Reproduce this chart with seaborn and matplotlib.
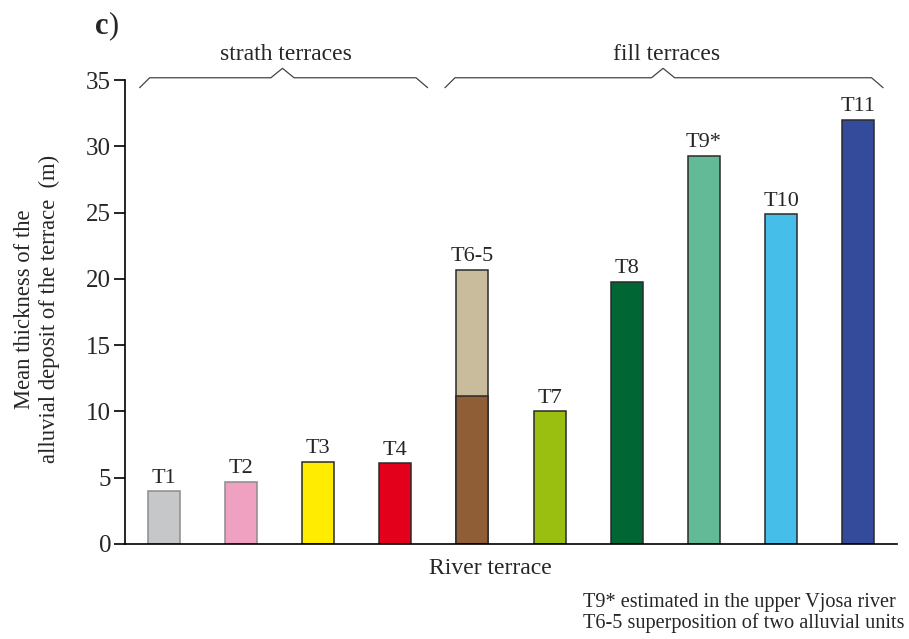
import pandas as pd
import matplotlib.pyplot as plt
import seaborn as sns

# === DATA ===
terraces = ["T1", "T2", "T3", "T4", "T6-5", "T7", "T8", "T9*", "T10", "T11"]
thickness = [4.0, 4.7, 6.2, 6.1, 20.7, 10.0, 19.8, 29.3, 24.9, 32.0]
t65_lower_unit = 11.2  # lower alluvial unit of T6-5
bar_colors = ["#C6C7C8", "#F0A1C1", "#FFEC00", "#E2001A", "#C9BC9C",
              "#9ABF10", "#006633", "#63BA97", "#45BFE9", "#344B9B"]
lower_color = "#8F5D36"
edge_colors = ["#8C8C8C", "#8C8C8C"] + ["#2A2A2A"] * 8
groups = [("strath terraces", -0.31, 3.42, 1.54), ("fill terraces", 3.645, 9.32, 6.47)]
footnotes = ["T9* estimated in the upper Vjosa river",
             "T6-5 superposition of two alluvial units"]

# === STYLE ===
sns.set_theme(style="ticks")
plt.rcParams["font.family"] = ["Liberation Serif", "DejaVu Serif"]

fig = plt.figure(figsize=(9.09, 6.39), dpi=100)
ax = fig.add_axes([0.1375, 0.1487, 0.8493, 0.7261])

df = pd.DataFrame({"terrace": terraces, "thickness": thickness})
sns.barplot(data=df, x="terrace", y="thickness", hue="terrace", order=terraces,
            palette=dict(zip(terraces, bar_colors)), saturation=1, width=0.415,
            legend=False, ax=ax)
for patch, ec in zip(ax.patches, edge_colors):
    patch.set_edgecolor(ec)
    patch.set_linewidth(1.1)

# lower unit of the stacked T6-5 bar
lower = [t65_lower_unit if t == "T6-5" else float("nan") for t in terraces]
df_low = pd.DataFrame({"terrace": terraces, "lower": lower})
sns.barplot(data=df_low, x="terrace", y="lower", order=terraces, color=lower_color,
            saturation=1, width=0.415, ax=ax, edgecolor="#2A2A2A", linewidth=1.1)

# bar labels
for i, (t, v) in enumerate(zip(terraces, thickness)):
    ax.text(i, v + 0.25, t, ha="center", va="bottom", fontsize=16)

# axes
ax.set_xlim(-0.5, 9.5)
ax.set_ylim(0, 35)
ax.set_yticks(range(0, 36, 5))
ax.tick_params(axis="y", length=8, width=1.2, labelsize=18, pad=2, color="black")
ax.tick_params(axis="x", length=0, labelbottom=False)
ax.set_xlabel("")
ax.set_ylabel("")
sns.despine(ax=ax)
for s in ["left", "bottom"]:
    ax.spines[s].set_linewidth(1.2)
    ax.spines[s].set_color("black")

# group brackets
for label, x0, x1, xp in groups:
    yh, ye, ypk = 35.17, 34.42, 35.88
    xs = [x0, x0 + 0.13, xp - 0.15, xp, xp + 0.15, x1 - 0.15, x1]
    ys = [ye, yh, yh, ypk, yh, yh, ye]
    ax.plot(xs, ys, color="#444444", lw=0.9, clip_on=False)
    ax.text(xp + 0.05, 36.95, label, ha="center", va="center", fontsize=17)

fig.text(490 / 909, 1 - 568 / 639, "River terrace", ha="center", va="center", fontsize=17)
fig.text(37 / 909, 1 - 309 / 639, "Mean thickness of the\nalluvial deposit of the terrace  (m)",
         rotation=90, ha="center", va="center", multialignment="center",
         fontsize=16.3, linespacing=1.2)

fig.text(108 / 909, 1 - 26 / 639, "c", ha="right", va="center", fontsize=22, fontweight="bold")
fig.text(108 / 909, 1 - 26 / 639, ")", ha="left", va="center", fontsize=22)

for k, note in enumerate(footnotes):
    fig.text(583 / 909, 1 - (603 + 20 * k) / 639, note, ha="left", va="center", fontsize=14.6)

fig.savefig("out.png", dpi=100)
